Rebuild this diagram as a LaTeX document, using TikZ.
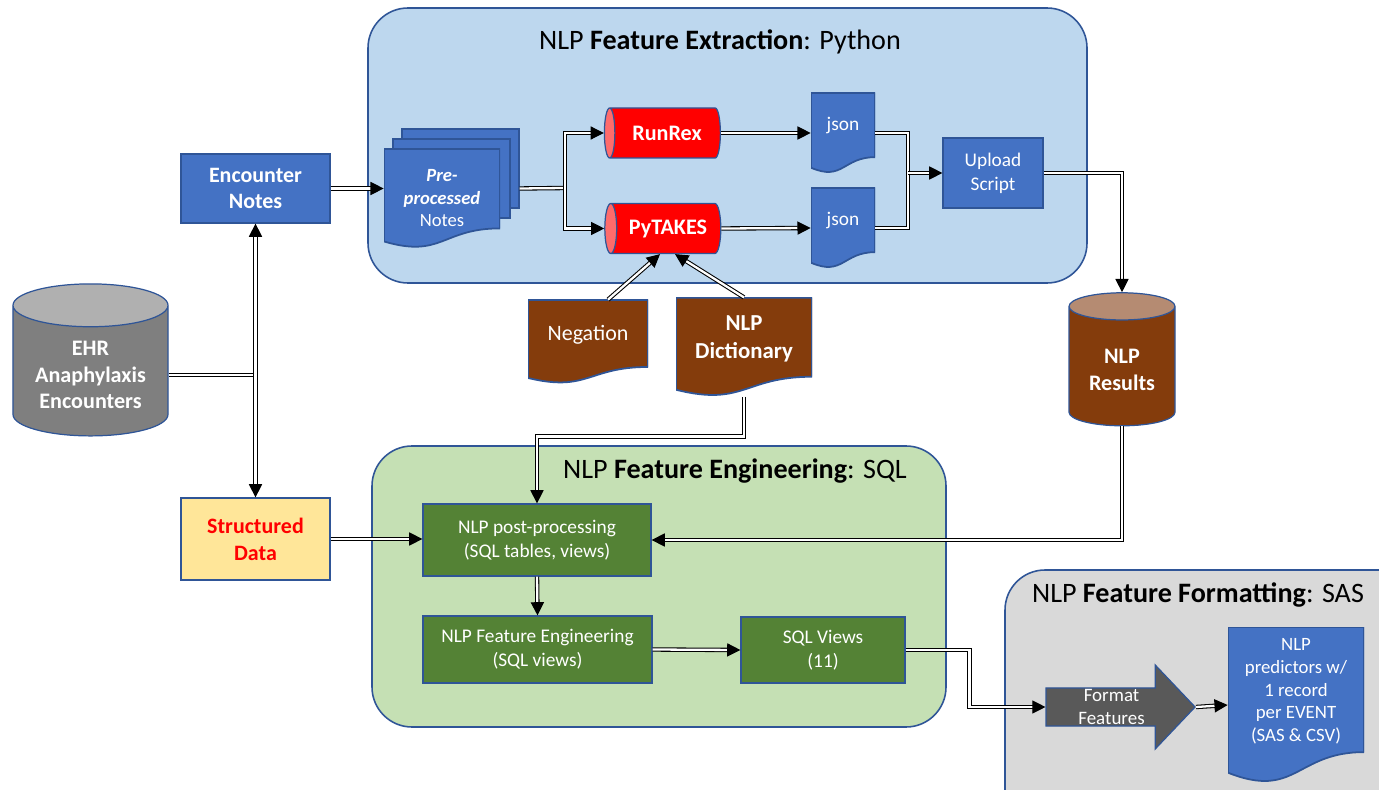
\documentclass[tikz,border=0pt]{standalone}
\usepackage{fontspec}
\setmainfont{Carlito}
\usetikzlibrary{arrows.meta,calc,shapes.geometric,shapes.arrows}

\definecolor{edgeblue}{HTML}{2F5597}
\definecolor{boxblue}{HTML}{4472C4}
\definecolor{extractbg}{HTML}{BDD7EE}
\definecolor{engbg}{HTML}{C5E0B4}
\definecolor{fmtbg}{HTML}{D9D9D9}
\definecolor{sqlgreen}{HTML}{548235}
\definecolor{dictbrown}{HTML}{843C0C}
\definecolor{brownend}{HTML}{B58B72}
\definecolor{ehrgray}{HTML}{7F7F7F}
\definecolor{ehrend}{HTML}{B0B0B0}
\definecolor{runred}{HTML}{FF0000}
\definecolor{runend}{HTML}{FF6B6B}
\definecolor{sdyellow}{HTML}{FFE699}
\definecolor{arrowgray}{HTML}{595959}

\newcommand{\ppb}{path picture bounding box}
\newcommand{\dpstrut}[1]{\rule[-#1]{0pt}{#1}}

\tikzset{
  region/.style={draw=edgeblue, line width=0.9pt, rounded corners=0.8cm},
  title/.style={font=\fontsize{16}{19}\selectfont},
  box/.style={draw=edgeblue, fill=boxblue, line width=0.7pt, text=white, align=center,
    font=\bfseries\fontsize{12.5}{15.3}\selectfont},
  smallbox/.style={box, font=\fontsize{11}{13.6}\selectfont},
  sqlbox/.style={smallbox, fill=sqlgreen},
  sheet/.style={draw=edgeblue, fill=boxblue, line width=0.7pt},
  doc/.style={align=center, text=white, font=\fontsize{11}{13.6}\selectfont,
    path picture={
      \path[draw=edgeblue, line width=1pt, fill=#1] (\ppb.north west) -- (\ppb.north east)
        -- ($(\ppb.north east)!0.802!(\ppb.south east)$)
        .. controls ($(\ppb.north)!0.802!(\ppb.south)$) and ($(\ppb.north)!1.107!(\ppb.south)$)
        .. ($(\ppb.north west)!0.934!(\ppb.south west)$) -- cycle;}},
  cyl/.style={cylinder, draw=edgeblue, line width=0.7pt, cylinder uses custom fill,
    text=white, align=center, font=\bfseries\fontsize{12.6}{15.3}\selectfont},
  vcyl/.style={cyl, shape border rotate=90, shape aspect=0.35},
  hcyl/.style={cyl, shape border rotate=180, shape aspect=0.4, cylinder body fill=runred,
    cylinder end fill=runend, minimum height=2.32cm, minimum width=1cm},
  fmtarrow/.style={single arrow, draw=edgeblue, fill=arrowgray, line width=0.7pt, text=white,
    align=center, font=\fontsize{10.8}{13}\selectfont, single arrow head extend=0.46cm,
    single arrow tip angle=93, inner ysep=0.5pt, minimum height=2.98cm},
  link/.style={double=white, double distance=1.3pt, line width=0.6pt},
  conn/.style={link, -{Triangle[length=7.5pt,width=7.5pt]}}
}

\begin{document}
\begin{tikzpicture}
  \useasboundingbox (0,0) rectangle (27.58,-15.8);

  % regions
  \node[region, fill=extractbg, minimum width=14.38cm, minimum height=5.5cm] (extract) at (14.55,-2.91) {};
  \node[title] (extracttitle) at (14.4,-0.84) {NLP \textbf{Feature Extraction}: Python};
  \node[region, fill=engbg, minimum width=11.48cm, minimum height=5.62cm] (engineer) at (13.18,-11.73) {};
  \node[title] (engtitle) at (14.7,-9.42) {NLP \textbf{Feature Engineering}: SQL};
  \node[region, fill=fmtbg, minimum width=8.3cm, minimum height=5.2cm] (format) at (24.25,-14.0) {};
  \node[title] (fmttitle) at (23.96,-11.9) {NLP \textbf{Feature Formatting}: SAS};

  % sources
  \node[box, minimum width=2.98cm, minimum height=1.38cm] (enc) at (5.11,-3.77) {Encounter\\Notes};
  \node[box, fill=sdyellow, text=red, minimum width=2.98cm, minimum height=1.64cm] (sd) at (5.11,-10.78) {Structured\\Data};
  \node[vcyl, cylinder body fill=ehrgray, cylinder end fill=ehrend, minimum width=3.1cm,
    minimum height=3.04cm] (ehr) at (1.81,-7.5) {EHR\\Anaphylaxis\\Encounters};

  % extraction
  \node[sheet, minimum width=2.34cm, minimum height=1.58cm] (preback) at (9.21,-3.37) {};
  \node[sheet, minimum width=2.34cm, minimum height=1.58cm] (premid) at (9.03,-3.57) {};
  \node[doc=boxblue, minimum width=2.32cm, minimum height=1.98cm, font=\fontsize{10.6}{12.8}\selectfont]
    (pre) at (8.84,-3.97) {\textbf{\textit{Pre-}}\\\textbf{\textit{processed}}\\Notes};
  \node[hcyl] (runrex) at (13.34,-2.66) {RunRex};
  \node[hcyl] (pytakes) at (13.36,-4.57) {PyTAKES};
  \node[doc=boxblue, minimum width=1.28cm, minimum height=1.6cm] (json1) at (16.86,-2.66) {json\dpstrut{0.35cm}};
  \node[doc=boxblue, minimum width=1.28cm, minimum height=1.6cm] (json2) at (16.86,-4.56) {json\dpstrut{0.35cm}};
  \node[smallbox, minimum width=2cm, minimum height=1.4cm] (upload) at (19.86,-3.46) {Upload\\Script};
  \node[vcyl, cylinder body fill=dictbrown, cylinder end fill=brownend, minimum width=2.12cm,
    minimum height=2.66cm] (results) at (22.44,-7.39) {NLP\\Results};
  \node[doc=dictbrown, minimum width=2.4cm, minimum height=1.67cm, font=\fontsize{12.5}{15}\selectfont]
    (neg) at (11.76,-6.835) {Negation\dpstrut{0.35cm}};
  \node[doc=dictbrown, minimum width=2.72cm, minimum height=1.97cm, font=\bfseries\fontsize{13}{15.9}\selectfont]
    (dict) at (14.88,-6.94) {NLP\\Dictionary\dpstrut{0.4cm}};

  % engineering
  \node[sqlbox, minimum width=4.56cm, minimum height=1.44cm] (post) at (10.74,-10.8) {NLP post-processing\\(SQL tables, views)};
  \node[sqlbox, minimum width=4.58cm, minimum height=1.34cm] (feat) at (10.75,-12.99) {NLP Feature Engineering\\(SQL views)};
  \node[sqlbox, minimum width=3.28cm, minimum height=1.32cm] (sql) at (16.46,-13.0) {SQL Views\\(11)};

  % formatting
  \node[fmtarrow] (fmt) at (22.23,-14.14) {Format\\Features};
  \node[doc=boxblue, minimum width=2.72cm, minimum height=3.12cm, font=\fontsize{10.7}{13}\selectfont]
    (pred) at (25.92,-14.1) {NLP\\predictors w/\\1 record\\per EVENT\\(SAS \& CSV)\dpstrut{0.6cm}};

  % connectors
  \coordinate (split) at (11.3,-3.76);
  \coordinate (merge) at (18.16,-3.46);
  \draw[conn] (enc.east) -- (enc.east -| pre.west);
  \draw[link] (ehr.east) -- (ehr.east -| enc.south);
  \draw[conn] (ehr.east -| enc.south) -- (enc.south);
  \draw[conn] (ehr.east -| enc.south) -- (sd.north);
  \draw[link] (enc.east -| preback.east) -- (split);
  \draw[conn] (split) |- (runrex.west);
  \draw[conn] (split) |- (pytakes.west);
  \draw[conn] (runrex.east) -- (json1.west);
  \draw[conn] (pytakes.east) -- (json2.west);
  \draw[link] (json1.east) -| (merge);
  \draw[link] (json2.east) -| (merge);
  \draw[conn] (merge) -- (upload.west);
  \draw[conn] (upload.east) -| (results.north);
  \draw[conn] ([xshift=0.4cm]neg.north) -- ([xshift=-0.16cm]pytakes.south);
  \draw[conn] (dict.north) -- ([xshift=0.14cm]pytakes.south);
  \draw[conn] (dict.south) -- ++(0,-0.8) -| (post.north);
  \draw[conn] (sd.east) -- (sd.east -| post.west);
  \draw[conn] (results.south) |- (post.east);
  \draw[conn] (post.south) -- (feat.north);
  \draw[conn] (feat.east) -- (sql.west);
  \draw[conn] (sql.east) -- ++(1.28,0) |- (fmt.west);
  \draw[conn] (fmt.east) -- (pred.west);
\end{tikzpicture}
\end{document}
